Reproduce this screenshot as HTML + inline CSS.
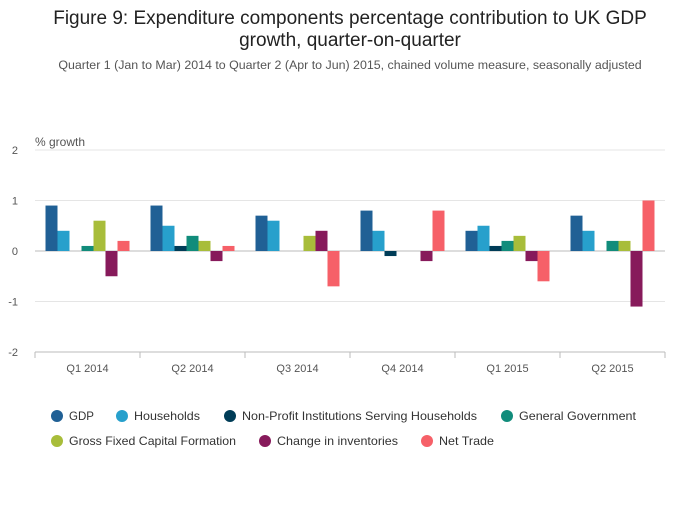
<!DOCTYPE html>
<html><head><meta charset="utf-8"><style>
body{margin:0;background:#fff;font-family:"Liberation Sans",sans-serif}
svg text{font-family:"Liberation Sans",sans-serif}
</style></head><body>
<svg id="c" width="700" height="502" xmlns="http://www.w3.org/2000/svg">
<text x="350" y="24" text-anchor="middle" font-size="19" fill="#222">Figure 9: Expenditure components percentage contribution to UK GDP</text>
<text x="350" y="46" text-anchor="middle" font-size="19" fill="#222">growth, quarter-on-quarter</text>
<text x="350" y="69" text-anchor="middle" font-size="12.4" fill="#555">Quarter 1 (Jan to Mar) 2014 to Quarter 2 (Apr to Jun) 2015, chained volume measure, seasonally adjusted</text>
<text x="35" y="146" font-size="12" fill="#555">% growth</text>
<g id="grid"></g><g id="bars"></g><g id="axis"></g><g id="legend"></g>
</svg>
<script>
const categories=["Q1 2014","Q2 2014","Q3 2014","Q4 2014","Q1 2015","Q2 2015"];
const seriesNames=["GDP","Households","Non-Profit Institutions Serving Households","General Government","Gross Fixed Capital Formation","Change in inventories","Net Trade"];
const gdp=[0.9,0.9,0.7,0.8,0.4,0.7];
const households=[0.4,0.5,0.6,0.4,0.5,0.4];
const npish=[0,0.1,0,-0.1,0.1,0];
const government=[0.1,0.3,0,0,0.2,0.2];
const gfcf=[0.6,0.2,0.3,0,0.3,0.2];
const inventories=[-0.5,-0.2,0.4,-0.2,-0.2,-1.1];
const netTrade=[0.2,0.1,-0.7,0.8,-0.6,1.0];
const yTicks=[2,1,0,-1,-2];
const series=[gdp,households,npish,government,gfcf,inventories,netTrade];
const colors=["#206095","#27a0cc","#003c57","#118c7b","#a8bd3a","#871a5b","#f66068"];
const NS="http://www.w3.org/2000/svg";
const x0=35,x1=665,yTop=150,yBot=352;
const y=v=>yTop+(2-v)*(yBot-yTop)/4;
const gw=(x1-x0)/categories.length,bw=12,pad=(gw-bw*7)/2;
function mk(t,a,p){const e=document.createElementNS(NS,t);for(const k in a)e.setAttribute(k,a[k]);p.appendChild(e);return e;}
const grid=document.getElementById('grid'),bars=document.getElementById('bars'),axis=document.getElementById('axis'),leg=document.getElementById('legend');
yTicks.forEach(t=>{
 const l=mk('line',{x1:x0,x2:x1,y1:y(t),y2:y(t),stroke:t===0?'#bbb':'#e5e5e5'},grid);
 
 
 const tx=mk('text',{x:18,y:y(t)+4,'font-size':11,fill:'#555','text-anchor':'end'},grid);tx.textContent=t;
 
 
});
categories.forEach((c,i)=>{
 series.forEach((s,j)=>{
  const v=s[i];if(v===0)return;
  const r=mk('rect',{x:x0+i*gw+pad+j*bw,y:Math.min(y(v),y(0)),width:bw,height:Math.abs(y(v)-y(0)),fill:colors[j]},bars);
  
  
 });
 const tx=mk('text',{x:x0+i*gw+gw/2,y:372,'font-size':11,fill:'#555','text-anchor':'middle'},axis);tx.textContent=c;
 
 
});
mk('line',{x1:x0,x2:x1,y1:yBot,y2:yBot,stroke:'#bbb'},axis);
for(let i=0;i<=categories.length;i++)mk('line',{x1:x0+i*gw,x2:x0+i*gw,y1:yBot,y2:yBot+6,stroke:'#bbb'},axis);
const lp=[[57,416],[122,416],[230,416],[507,416],[57,441],[265,441],[427,441]];
const lw=[25,66,235,117,167,121,55];
seriesNames.forEach((n,j)=>{
 const g=mk('g',{},leg);
 
 
 mk('circle',{cx:lp[j][0],cy:lp[j][1],r:6,fill:colors[j]},g);
 const t=mk('text',{x:lp[j][0]+12,y:lp[j][1]+4,'font-size':12,fill:'#333',textLength:lw[j],lengthAdjust:'spacingAndGlyphs'},g);t.textContent=n;
});
</script>
</body></html>
